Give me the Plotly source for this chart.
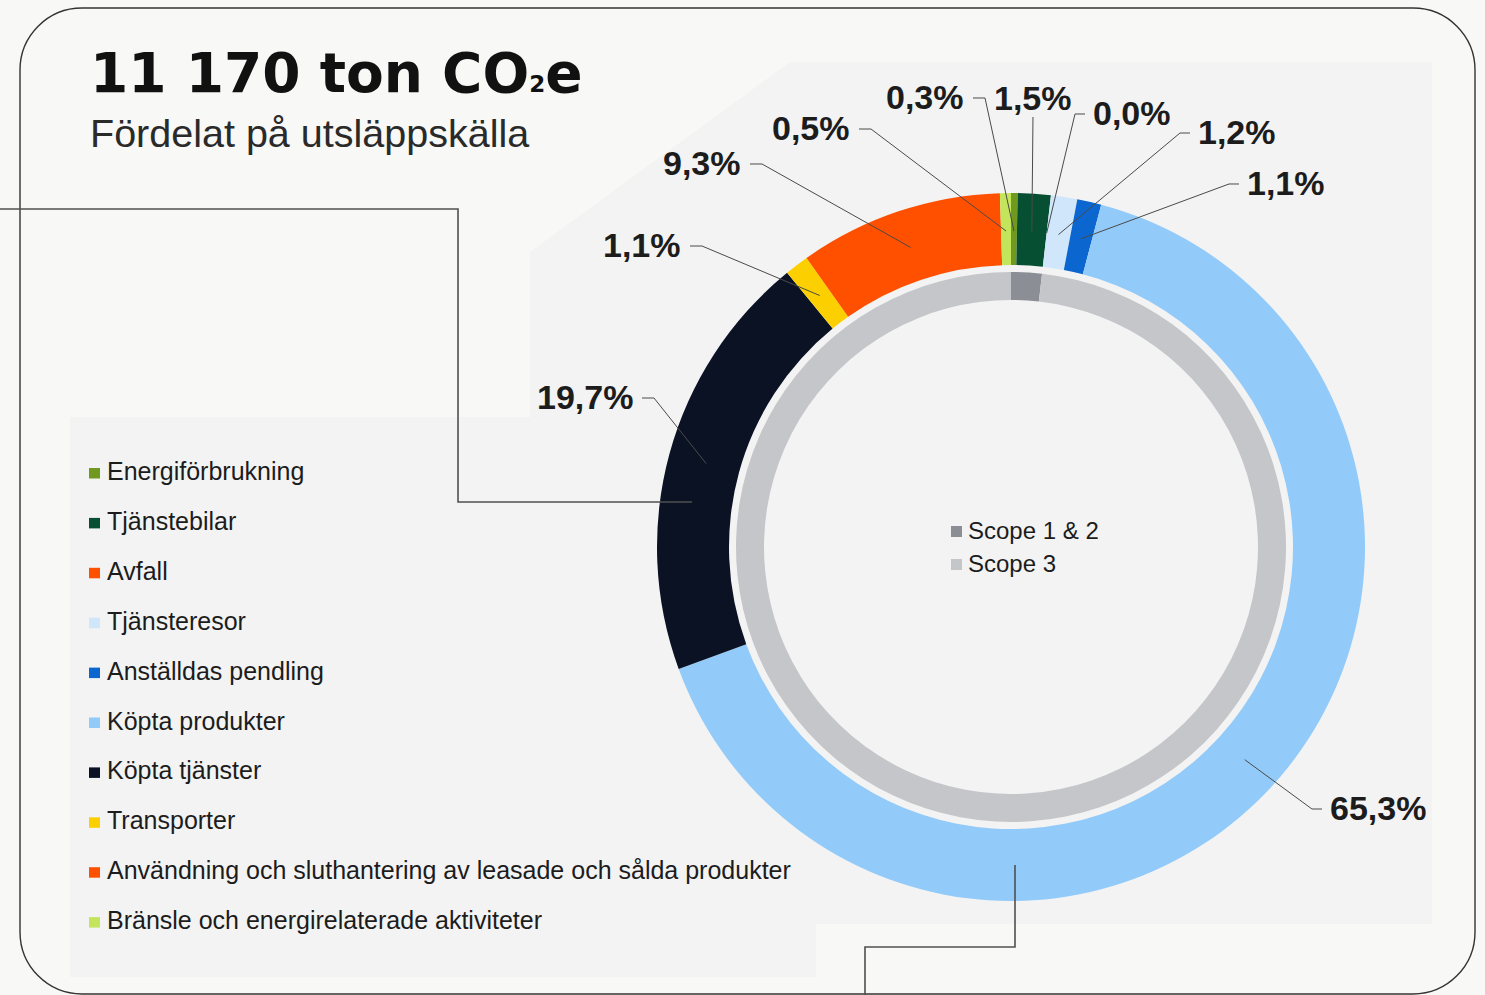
import math
import plotly.graph_objects as go

W, H = 1485, 995

# ---------------- data ----------------
categories = [
    "Energiförbrukning",
    "Tjänstebilar",
    "Avfall",
    "Tjänsteresor",
    "Anställdas pendling",
    "Köpta produkter",
    "Köpta tjänster",
    "Transporter",
    "Användning och sluthantering av leasade och sålda produkter",
    "Bränsle och energirelaterade aktiviteter",
]
shares = [0.3, 1.5, 0.0, 1.2, 1.1, 65.3, 19.7, 1.1, 9.3, 0.5]

scope_labels = ["Scope 1 & 2", "Scope 3"]
scope_shares = [1.8, 98.2]

title_text = "11 170 ton CO<span style='font-size:23px'>2</span>e"
subtitle_text = "Fördelat på utsläppskälla"

# ---------------- styles / layout ----------------
colors = ["#6F9A1F", "#064F32", "#FF5000", "#D0E6FB", "#0B66CF",
          "#92CBF9", "#0A1224", "#FCD000", "#FF5000", "#C3E55C"]
scope_colors = ["#8B8E94", "#C5C6CA"]

BG = "#F8F8F6"
PANEL = "#F3F3F3"
TXT = "#1C1C1C"
LINE = "#4A4A4A"

CX, CY = 1011, 547          # ring centre (px)
R_OUT, R_HOLE = 354, 282    # outer ring
R2_OUT, R2_HOLE = 275, 247  # inner ring
R_ANCHOR = 316              # where leader lines end

# label placement per category: (text x edge, text mid y, side)
label_pos = [
    (966, 97, "right"),
    (1033, 98, "center"),
    (1091, 113, "left"),
    (1196, 132, "left"),
    (1245, 183, "left"),
    (1328, 808, "left"),
    (635, 397, "right"),
    (683, 245, "right"),
    (743, 163, "right"),
    (852, 128, "right"),
]


def X(px):
    return px / W


def Y(py):
    return 1 - py / H


def dom(r):
    return dict(x=[X(CX - r), X(CX + r)], y=[Y(CY + r), Y(CY - r)])


fig = go.Figure()

fig.add_trace(go.Pie(
    labels=categories, values=shares, sort=False, direction="clockwise",
    rotation=0, hole=R_HOLE / R_OUT, domain=dom(R_OUT),
    marker=dict(colors=colors, line=dict(width=0)),
    textinfo="none", hoverinfo="label+percent", showlegend=False,
))
fig.add_trace(go.Pie(
    labels=scope_labels, values=scope_shares, sort=False, direction="clockwise",
    rotation=0, hole=R2_HOLE / R2_OUT, domain=dom(R2_OUT),
    marker=dict(colors=scope_colors, line=dict(width=0)),
    textinfo="none", hoverinfo="label+percent", showlegend=False,
))

shapes = []
annotations = []


def path_of(pts, close=False):
    s = "M " + " L ".join(f"{X(a):.5f},{Y(b):.5f}" for a, b in pts)
    return s + (" Z" if close else "")


# background panel
panel_pts = [(530, 417), (530, 252), (790, 62), (1432, 62), (1432, 924),
             (816, 924), (816, 977), (70, 977), (70, 417)]
shapes.append(dict(type="path", xref="paper", yref="paper", layer="below",
                   path=path_of(panel_pts, True), fillcolor=PANEL,
                   line=dict(width=0)))

# rounded border
x0, y0, x1, y1, rr = 20, 8, 1475, 994, 62
k = 0.5523 * rr


def P(a, b):
    return f"{X(a):.5f},{Y(b):.5f}"


border = (f"M {P(x0 + rr, y0)} L {P(x1 - rr, y0)} "
          f"C {P(x1 - rr + k, y0)} {P(x1, y0 + rr - k)} {P(x1, y0 + rr)} "
          f"L {P(x1, y1 - rr)} "
          f"C {P(x1, y1 - rr + k)} {P(x1 - rr + k, y1)} {P(x1 - rr, y1)} "
          f"L {P(x0 + rr, y1)} "
          f"C {P(x0 + rr - k, y1)} {P(x0, y1 - rr + k)} {P(x0, y1 - rr)} "
          f"L {P(x0, y0 + rr)} "
          f"C {P(x0, y0 + rr - k)} {P(x0 + rr - k, y0)} {P(x0 + rr, y0)} Z")
shapes.append(dict(type="path", xref="paper", yref="paper", layer="below",
                   path=border, line=dict(color="#333333", width=1.4)))

# connector lines
for pts in ([(0, 209), (458, 209), (458, 502), (692, 502)],
            [(1015, 865), (1015, 947), (865, 947), (865, 1000)]):
    shapes.append(dict(type="path", xref="paper", yref="paper", layer="above",
                       path=path_of(pts), line=dict(color="#505050", width=1.6)))

# percentage labels + leader lines (anchors from data)
total = sum(shares)
cum = 0.0
for cat, v, (tx, ty, side) in zip(categories, shares, label_pos):
    mid = (cum + v / 2) / total
    cum += v
    th = 2 * math.pi * mid
    ax = CX + R_ANCHOR * math.sin(th)
    ay = CY - R_ANCHOR * math.cos(th)
    txt = f"{v:.1f}".replace(".", ",") + "%"
    if side == "right":
        pts = [(tx + 7, ty + 1), (tx + 19, ty + 1), (ax, ay)]
        xa = "right"
    elif side == "left":
        pts = [(tx - 6, ty + 1), (tx - 16, ty + 1), (ax, ay)]
        xa = "left"
    else:
        pts = [(tx, ty + 19), (ax, ay)]
        xa = "center"
    shapes.append(dict(type="path", xref="paper", yref="paper", layer="above",
                       path=path_of(pts), line=dict(color=LINE, width=1)))
    annotations.append(dict(x=X(tx), y=Y(ty), xref="paper", yref="paper",
                            text=f"<b>{txt}</b>", showarrow=False,
                            xanchor=xa, yanchor="middle",
                            font=dict(family="Liberation Sans", size=34,
                                      color=TXT)))

# category legend
for i, (cat, col) in enumerate(zip(categories, colors)):
    yy = 471 + 49.9 * i
    shapes.append(dict(type="rect", xref="paper", yref="paper", layer="above",
                       x0=X(89), x1=X(100), y0=Y(yy + 7.5), y1=Y(yy - 3),
                       fillcolor=col, line=dict(width=0)))
    annotations.append(dict(x=X(105), y=Y(yy), xref="paper", yref="paper",
                            text=cat, showarrow=False, xanchor="left",
                            yanchor="middle",
                            font=dict(family="Liberation Sans", size=25,
                                      color=TXT)))

# scope legend
for i, (lab, col) in enumerate(zip(scope_labels, scope_colors)):
    yy = 530 + 33 * i
    shapes.append(dict(type="rect", xref="paper", yref="paper", layer="above",
                       x0=X(951), x1=X(962), y0=Y(yy + 7), y1=Y(yy - 4),
                       fillcolor=col, line=dict(width=0)))
    annotations.append(dict(x=X(966), y=Y(yy), xref="paper", yref="paper",
                            text=lab, showarrow=False, xanchor="left",
                            yanchor="middle",
                            font=dict(family="Liberation Sans", size=24,
                                      color=TXT)))

# titles
annotations.append(dict(x=X(88), y=Y(73), xref="paper", yref="paper",
                        text=f"<b>{title_text}</b>", showarrow=False,
                        xanchor="left", yanchor="middle",
                        font=dict(family="DejaVu Sans", size=55,
                                  color="#111111")))
annotations.append(dict(x=X(88), y=Y(133), xref="paper", yref="paper",
                        text=subtitle_text, showarrow=False, xanchor="left",
                        yanchor="middle",
                        font=dict(family="Liberation Sans", size=39.5,
                                  color="#2A2A2A")))

fig.update_layout(
    width=W, height=H, margin=dict(l=0, r=0, t=0, b=0),
    paper_bgcolor=BG, plot_bgcolor=BG,
    shapes=shapes, annotations=annotations, showlegend=False,
)

fig.write_html("out.html",
               config={"displayModeBar": False},
               post_script="document.body.style.margin='0';"
                           "document.body.style.overflow='hidden';")
